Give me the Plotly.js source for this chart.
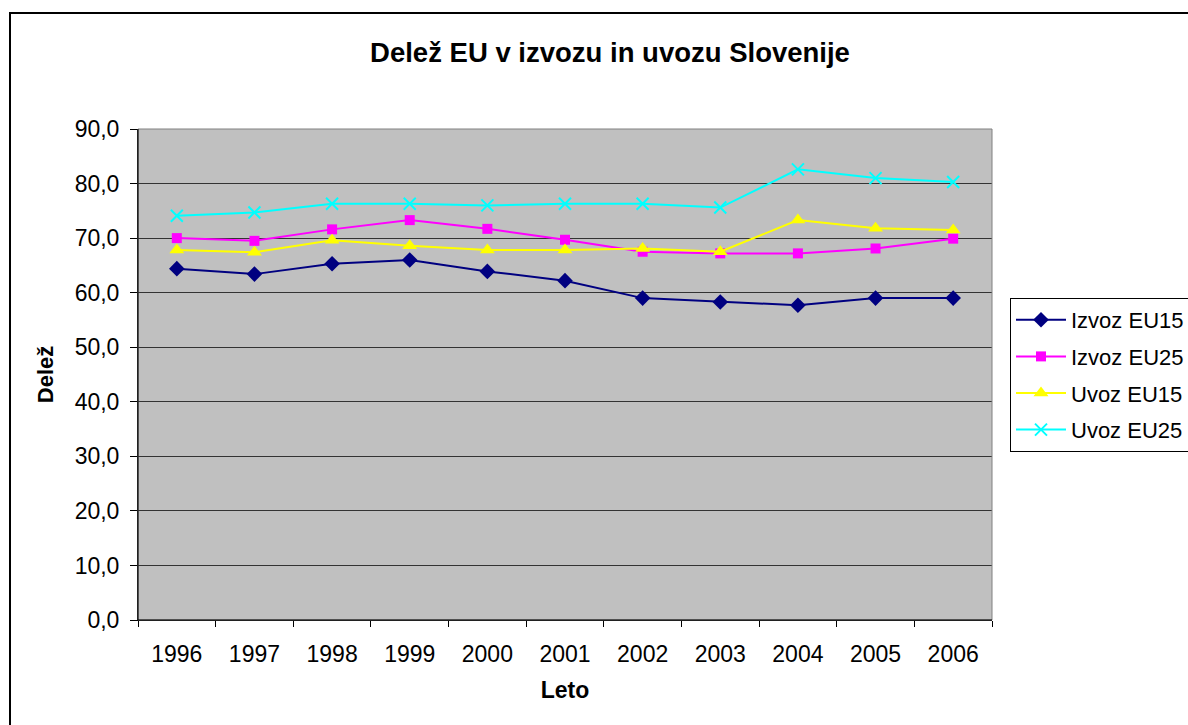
<!DOCTYPE html>
<html>
<head>
<meta charset="utf-8">
<script src="https://cdn.plot.ly/plotly-3.0.1.min.js"></script>
<style>
html,body{margin:0;padding:0;background:#fff;}
#chart{width:1188px;height:725px;}
</style>
</head>
<body>
<div id="chart"></div>
<script>
const years = ["1996","1997","1998","1999","2000","2001","2002","2003","2004","2005","2006"];
const izvozEU15 = [64.4, 63.4, 65.3, 66.0, 63.9, 62.2, 59.0, 58.3, 57.7, 59.0, 59.0];
const izvozEU25 = [70.0, 69.5, 71.6, 73.3, 71.7, 69.7, 67.5, 67.2, 67.2, 68.1, 69.9];
const uvozEU15  = [67.8, 67.4, 69.6, 68.6, 67.8, 67.8, 68.1, 67.5, 73.3, 71.8, 71.5];
const uvozEU25  = [74.1, 74.7, 76.3, 76.3, 76.0, 76.3, 76.3, 75.6, 82.6, 81.0, 80.3];
const seriesNames = ["Izvoz EU15", "Izvoz EU25", "Uvoz EU15", "Uvoz EU25"];

const font = "Liberation Sans, Arial, sans-serif";
const fs = 23;

const traces = [
  {x: years, y: izvozEU15, name: seriesNames[0], legendgroup: "a", mode: "lines+markers",
   line: {color: "#000080", width: 2}, marker: {symbol: "diamond", size: 12, color: "#000080"}},
  {x: years, y: izvozEU25, name: seriesNames[1], legendgroup: "b", mode: "lines+markers",
   line: {color: "#FF00FF", width: 2}, marker: {symbol: "square", size: 10, color: "#FF00FF"}},
  {x: years, y: uvozEU15, name: seriesNames[2], legendgroup: "c", mode: "lines+markers",
   line: {color: "#FFFF00", width: 2}, marker: {symbol: "triangle-up", size: 13, color: "#FFFF00"}},
  {x: years, y: uvozEU25, name: seriesNames[3], legendgroup: "d", mode: "lines+markers",
   line: {color: "#00FFFF", width: 2}, marker: {symbol: "x-thin-open", size: 12, color: "#00FFFF", line: {color: "#00FFFF", width: 2}}}
];

const layout = {
  width: 1188, height: 725,
  margin: {l: 138, r: 196, t: 129, b: 105, pad: 0, autoexpand: false},
  paper_bgcolor: "#ffffff",
  plot_bgcolor: "#C0C0C0",
  separators: ",.",
  font: {family: font, size: fs, color: "#000"},
  title: {text: "<b>Delež EU v izvozu in uvozu Slovenije</b>", font: {family: font, size: 27.5, color: "#000"},
          x: 610 / 1188, xanchor: "center", xref: "container", y: 1 - 52/725, yanchor: "middle"},
  xaxis: {
    type: "category", range: [-0.5, 10.5], tickson: "boundaries", ticks: "outside", ticklen: 6, tickcolor: "#000",
    showline: true, linecolor: "#000", linewidth: 1, showgrid: false, zeroline: false,
    tickfont: {family: font, size: fs, color: "#000"}, ticklabelstandoff: 13,
    title: {text: "<b>Leto</b>", font: {family: font, size: fs, color: "#000"}, standoff: 16},
    fixedrange: true, automargin: false
  },
  yaxis: {
    range: [0, 90], dtick: 10, tick0: 0, tickformat: ".1f",
    ticks: "outside", ticklen: 7, tickcolor: "#000",
    showline: true, linecolor: "#000", linewidth: 1,
    showgrid: true, gridcolor: "#333", gridwidth: 1, zeroline: false,
    tickfont: {family: font, size: fs, color: "#000"}, ticklabelstandoff: 6,
    title: {text: "<b>Delež</b>", font: {family: font, size: fs - 1, color: "#000"}, standoff: 14},
    fixedrange: true, automargin: false
  },
  legend: {
    x: (1010 - 138) / 854, xanchor: "left", y: (620 - 298) / 491, yanchor: "top",
    bgcolor: "#fff", bordercolor: "#000", borderwidth: 1,
    font: {family: font, size: fs - 1, color: "#000"},
    traceorder: "grouped", tracegroupgap: 5, itemwidth: 50
  },
  shapes: [
    {type: "rect", xref: "paper", yref: "paper", x0: 0, x1: 1, y0: 0, y1: 1,
     line: {color: "#808080", width: 1}, layer: "above"},
    {type: "line", xref: "paper", yref: "paper", x0: 0, x1: 0, y0: 0, y1: 1,
     line: {color: "#000", width: 1}, layer: "above"},
    {type: "line", xref: "paper", yref: "paper", x0: 0, x1: 1, y0: 0, y1: 0,
     line: {color: "#000", width: 1}, layer: "above"},
    {type: "rect", xref: "paper", yref: "paper",
     x0: (10 - 138) / 854, x1: 1.4, y0: -0.5, y1: (620 - 13) / 491,
     line: {color: "#000", width: 2}, layer: "below", fillcolor: "rgba(0,0,0,0)"}
  ],
  showlegend: true
};

Plotly.newPlot("chart", traces, layout, {displayModeBar: false, staticPlot: true});
</script>
</body>
</html>
